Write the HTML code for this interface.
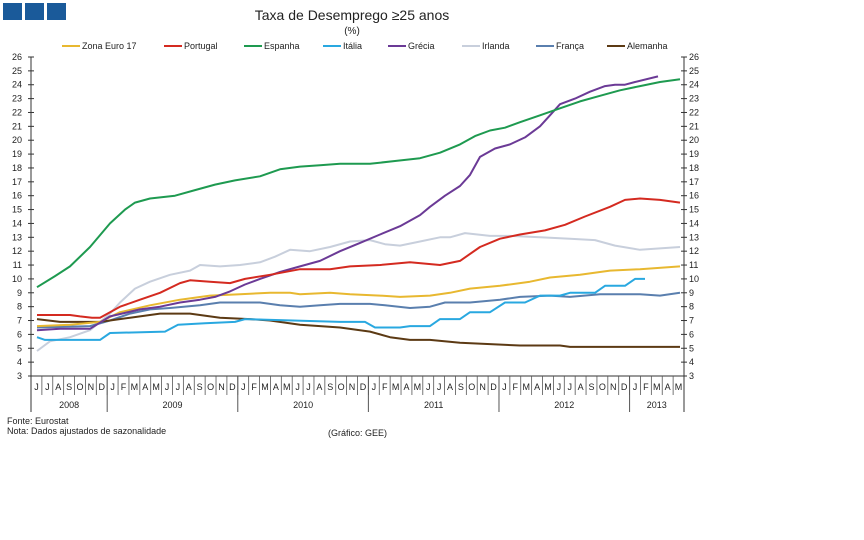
<!DOCTYPE html>
<html><head><meta charset="utf-8"><style>
body{margin:0;background:#fff;}
svg{display:block;font-family:"Liberation Sans",sans-serif;}
</style></head><body>
<svg id="s" width="864" height="540" xmlns="http://www.w3.org/2000/svg">
<rect x="3" y="3" width="19" height="17" fill="#1a5a9a"/>
<rect x="25" y="3" width="19" height="17" fill="#1a5a9a"/>
<rect x="47" y="3" width="19" height="17" fill="#1a5a9a"/>
<text x="352" y="20" font-size="14" text-anchor="middle" fill="#222">Taxa de Desemprego ≥25 anos</text>
<text x="352" y="34" font-size="10" text-anchor="middle" fill="#222">(%)</text>
<text x="7" y="424" font-size="9" fill="#222">Fonte: Eurostat</text>
<text x="7" y="434" font-size="9" fill="#222">Nota: Dados ajustados de sazonalidade</text>
<text x="328" y="436" font-size="9" fill="#222">(Gráfico: GEE)</text>
<g id="g"></g>
</svg>
<script>
const NS="http://www.w3.org/2000/svg",g=document.getElementById('g');
function el(t,a,txt){const e=document.createElementNS(NS,t);for(const k in a)e.setAttribute(k,a[k]);if(txt!==undefined)e.textContent=txt;g.appendChild(e);return e;}
const L=31,R=684,Y0=376,Y1=57,yv=v=>Y0-(v-3)*(Y0-Y1)/23,cw=(R-L)/60;
// axes
el('line',{x1:L,y1:Y1,x2:L,y2:412,stroke:'#333'});
el('line',{x1:R,y1:Y1,x2:R,y2:412,stroke:'#333'});
el('line',{x1:L,y1:Y0,x2:R,y2:Y0,stroke:'#333'});
for(let v=3;v<=26;v++){const y=yv(v);
el('line',{x1:L-3,y1:y,x2:L+3,y2:y,stroke:'#333'});
el('line',{x1:R-3,y1:y,x2:R+3,y2:y,stroke:'#333'});
el('text',{x:22,y:y+3,'font-size':9,'text-anchor':'end',fill:'#222'},v);
el('text',{x:689,y:y+3,'font-size':9,fill:'#222'},v);}
const mon="JJASOND"+"JFMAMJJASOND".repeat(4)+"JFMAM";
for(let i=0;i<60;i++){const x=L+(i+0.5)*cw;
el('text',{x:x,y:390,'font-size':9,'text-anchor':'middle',fill:'#222'},mon[i]);
if(i>0)el('line',{x1:L+i*cw,y1:Y0,x2:L+i*cw,y2:395,stroke:'#555','stroke-width':0.8});}
[7,19,31,43,55].forEach(i=>el('line',{x1:L+i*cw,y1:Y0,x2:L+i*cw,y2:412,stroke:'#555'}));
[[0,7,'2008'],[7,19,'2009'],[19,31,'2010'],[31,43,'2011'],[43,55,'2012'],[55,60,'2013']].forEach(a=>
el('text',{x:L+(a[0]+a[1])/2*cw,y:408,'font-size':9,'text-anchor':'middle',fill:'#222'},a[2]));
const S=[
['#c8cfdc',[[37,4.8],[50,5.5],[70,5.8],[90,6.3],[110,7.5],[120,8.3],[135,9.3],[150,9.8],[170,10.3],[190,10.6],[200,11.0],[220,10.9],[240,11.0],[260,11.2],[275,11.6],[290,12.1],[310,12.0],[330,12.3],[350,12.7],[370,12.8],[385,12.5],[400,12.4],[420,12.7],[440,13.0],[450,13.0],[465,13.3],[490,13.1],[510,13.1],[540,13.0],[570,12.9],[595,12.8],[615,12.4],[640,12.1],[660,12.2],[680,12.3]]],
['#5a7fae',[[37,6.5],[90,6.6],[110,7.0],[130,7.5],[150,7.8],[170,7.9],[200,8.1],[220,8.3],[260,8.3],[280,8.1],[300,8.0],[320,8.1],[340,8.2],[370,8.2],[385,8.1],[410,7.9],[430,8.0],[445,8.3],[470,8.3],[500,8.5],[520,8.7],[550,8.8],[570,8.7],[600,8.9],[640,8.9],[660,8.8],[680,9.0]]],
['#5c3a14',[[37,7.1],[60,6.9],[100,6.9],[130,7.2],[160,7.5],[190,7.5],[220,7.2],[250,7.1],[270,7.0],[300,6.7],[320,6.6],[340,6.5],[370,6.2],[390,5.8],[410,5.6],[430,5.6],[460,5.4],[490,5.3],[520,5.2],[560,5.2],[570,5.1],[680,5.1]]],
['#e8b830',[[37,6.6],[70,6.7],[100,6.9],[120,7.6],[150,8.1],[180,8.5],[210,8.8],[240,8.9],[270,9.0],[290,9.0],[300,8.9],[330,9.0],[350,8.9],[380,8.8],[400,8.7],[430,8.8],[450,9.0],[470,9.3],[500,9.5],[530,9.8],[550,10.1],[580,10.3],[610,10.6],[640,10.7],[680,10.9]]],
['#29a8e0',[[37,5.8],[45,5.6],[100,5.6],[110,6.1],[165,6.2],[178,6.7],[205,6.8],[235,6.9],[245,7.1],[340,6.9],[365,6.9],[375,6.5],[400,6.5],[410,6.6],[430,6.6],[440,7.1],[460,7.1],[470,7.6],[490,7.6],[505,8.3],[525,8.3],[540,8.8],[560,8.8],[570,9.0],[595,9.0],[605,9.5],[625,9.5],[635,10.0],[645,10.0]]],
['#6b3a96',[[37,6.3],[60,6.4],[90,6.4],[110,7.3],[140,7.8],[160,8.0],[180,8.3],[200,8.5],[215,8.7],[230,9.1],[245,9.6],[260,10.0],[280,10.5],[300,10.9],[320,11.3],[340,12.0],[360,12.6],[380,13.2],[400,13.8],[420,14.6],[430,15.2],[445,16.0],[460,16.7],[470,17.5],[480,18.8],[495,19.4],[510,19.7],[525,20.2],[540,21.0],[550,21.8],[560,22.6],[575,23.0],[590,23.5],[605,23.9],[615,24.0],[625,24.0],[635,24.2],[658,24.6]]],
['#d42a20',[[37,7.4],[70,7.4],[80,7.3],[92,7.2],[100,7.2],[120,8.0],[140,8.5],[160,9.0],[180,9.7],[190,9.9],[210,9.8],[230,9.7],[245,10.0],[270,10.3],[300,10.7],[330,10.7],[350,10.9],[380,11.0],[410,11.2],[440,11.0],[460,11.3],[480,12.3],[500,12.9],[520,13.2],[545,13.5],[565,13.9],[585,14.5],[610,15.2],[625,15.7],[640,15.8],[660,15.7],[680,15.5]]],
['#1e9a50',[[37,9.4],[55,10.2],[70,10.9],[90,12.3],[110,14.0],[125,15.0],[135,15.5],[150,15.8],[175,16.0],[195,16.4],[215,16.8],[235,17.1],[260,17.4],[280,17.9],[300,18.1],[320,18.2],[340,18.3],[370,18.3],[395,18.5],[420,18.7],[440,19.1],[460,19.7],[475,20.3],[490,20.7],[505,20.9],[520,21.3],[540,21.8],[560,22.3],[580,22.8],[600,23.2],[620,23.6],[640,23.9],[660,24.2],[680,24.4]]]
];
S.forEach(s=>{el('polyline',{points:s[1].map(p=>p[0]+','+yv(p[1]).toFixed(1)).join(' '),fill:'none',stroke:s[0],'stroke-width':2,'stroke-linejoin':'round'});});
[['#e8b830',62,'Zona Euro 17'],['#d42a20',164,'Portugal'],['#1e9a50',244,'Espanha'],['#29a8e0',323,'Itália'],['#6b3a96',388,'Grécia'],['#c8cfdc',462,'Irlanda'],['#5a7fae',536,'França'],['#5c3a14',607,'Alemanha']].forEach(l=>{
el('line',{x1:l[1],y1:46,x2:l[1]+18,y2:46,stroke:l[0],'stroke-width':2});
el('text',{x:l[1]+20,y:49,'font-size':9,fill:'#222'},l[2]);});
</script>
</body></html>
